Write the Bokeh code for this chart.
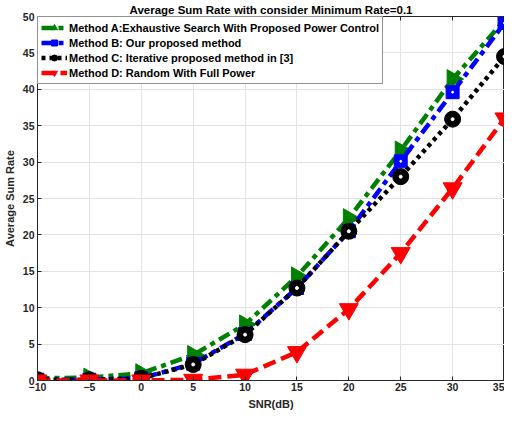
from bokeh.plotting import figure
from bokeh.models import Range1d, FixedTicker, LinearAxis, Title
from bokeh.embed import file_html
from bokeh.resources import INLINE

snr = [-10, -5, 0, 5, 10, 15, 20, 25, 30, 35]
method_a = [0.3, 0.4, 1.0, 3.5, 7.7, 14.3, 22.3, 31.6, 41.4, 49.5]
method_b = [0.1, 0.1, 0.3, 2.3, 6.4, 12.7, 20.5, 30.1, 39.6, 49.1]
method_c = [0.1, 0.1, 0.3, 2.2, 6.3, 12.7, 20.5, 28.0, 35.9, 44.5]
method_d = [0.0, 0.0, 0.0, 0.1, 0.8, 3.9, 9.8, 17.5, 26.4, 36.0]
labels = ["Method A:Exhaustive Search With Proposed Power Control",
          "Method B: Our proposed method",
          "Method C: Iterative proposed method in [3]",
          "Method D: Random With Full Power"]
ticks_x = [-10, -5, 0, 5, 10, 15, 20, 25, 30, 35]
ticks_y = [0, 5, 10, 15, 20, 25, 30, 35, 40, 45, 50]

FONT = "Liberation Sans"
p = figure(width=504, height=412, output_backend="svg", toolbar_location=None,
           x_range=Range1d(-10, 35), y_range=Range1d(0, 50),
           min_border_left=29, min_border_right=0, min_border_top=4, min_border_bottom=10)
p.title = Title(text="Average Sum Rate with consider Minimum Rate=0.1", align="center",
                text_font=FONT, text_font_size="11.5px", text_font_style="bold",
                text_color="#000000", standoff=2)
p.outline_line_color = "#262626"
p.outline_line_width = 1

for ax, lab in ((p.xaxis[0], "SNR(dB)"), (p.yaxis[0], "Average Sum Rate")):
    ax.axis_label = lab
    ax.axis_label_text_font = FONT
    ax.axis_label_text_font_size = "11px"
    ax.axis_label_text_font_style = "bold"
    ax.axis_label_text_color = "#262626"
    ax.major_label_text_font = FONT
    ax.major_label_text_font_size = "10.5px"
    ax.major_label_text_font_style = "bold"
    ax.major_label_text_color = "#262626"
    ax.axis_line_color = "#262626"
    ax.major_tick_line_color = "#262626"
    ax.major_tick_in = 4
    ax.major_tick_out = 0
    ax.minor_tick_line_color = None
p.xaxis[0].ticker = FixedTicker(ticks=ticks_x)
p.yaxis[0].ticker = FixedTicker(ticks=ticks_y)
p.xaxis[0].axis_label_standoff = 4
p.yaxis[0].axis_label_standoff = 4
p.xaxis[0].major_label_standoff = 2
p.yaxis[0].major_label_standoff = 3

top = LinearAxis(ticker=FixedTicker(ticks=ticks_x), major_label_text_font_size="0px",
                 axis_line_color="#262626", major_tick_line_color="#262626",
                 major_tick_in=4, major_tick_out=0, minor_tick_line_color=None)
top.major_label_text_alpha = 0
p.add_layout(top, "above")

p.xgrid.ticker = FixedTicker(ticks=ticks_x)
p.ygrid.ticker = FixedTicker(ticks=ticks_y)
p.grid.grid_line_color = "#e3e3e3"
p.grid.grid_line_width = 1

lw = 4.5
p.line(snr, method_a, color="green", line_width=lw, line_dash="12 5 5 5", legend_label=labels[0])
p.scatter(snr, method_a, marker="triangle", angle=-1.5708, size=19, color="green", legend_label=labels[0])
p.line(snr, method_b, color="blue", line_width=lw, line_dash="12 5 5 5", legend_label=labels[1])
p.scatter(snr, method_b, marker="square", size=13, color="blue", legend_label=labels[1])
p.scatter(snr, method_b, marker="circle", size=2, color="white")
p.line(snr, method_c, color="black", line_width=lw, line_dash="4 4", legend_label=labels[2])
p.scatter(snr, method_c, marker="circle", size=16, color="black", legend_label=labels[2])
p.scatter(snr, method_c, marker="circle", size=3, color="white")
p.line(snr, method_d, color="red", line_width=lw, line_dash="13 6", legend_label=labels[3])
p.scatter(snr, method_d, marker="inverted_triangle", size=19, color="red", legend_label=labels[3])

lg = p.legend[0]
lg.location = "top_left"
lg.margin = 0
lg.padding = 3
lg.spacing = 0
lg.label_height = 15
lg.glyph_height = 15
lg.glyph_width = 26
lg.label_standoff = 2
lg.label_text_font = FONT
lg.label_text_font_size = "11px"
lg.label_text_font_style = "bold"
lg.label_text_color = "#000000"
lg.border_line_color = "#262626"
lg.border_line_width = 1
lg.background_fill_alpha = 1

open("out.html", "w").write(file_html(p, INLINE))
